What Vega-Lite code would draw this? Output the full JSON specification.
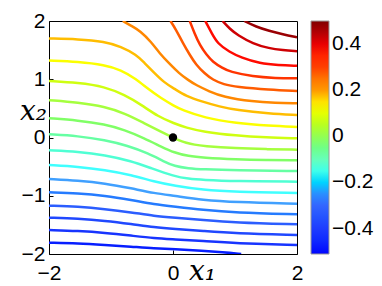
{
  "$schema": "https://vega.github.io/schema/vega-lite/v6.json",
  "width": 248,
  "height": 233,
  "autosize": {"type": "none"},
  "padding": {"left": 49, "top": 21, "right": 85, "bottom": 32},
  "background": "white",
  "config": {
    "view": {"stroke": "black", "strokeWidth": 1},
    "axis": {"labelFont": "Liberation Sans", "labelFontSize": 21, "labelColor": "black", "tickColor": "black", "tickSize": -4, "domain": false, "grid": false, "labelFlush": false, "format": "d", "titleFont": "DejaVu Serif", "titleFontStyle": "italic", "titleFontWeight": "normal", "titleFontSize": 28, "titleColor": "black"}
  },
  "datasets": {
    "contours": [
      {"l": 0.475, "x": 1.15, "y": 2.0}, {"l": 0.475, "x": 1.34, "y": 1.9}, {"l": 0.475, "x": 1.55, "y": 1.83}, {"l": 0.475, "x": 1.77, "y": 1.77}, {"l": 0.475, "x": 2.0, "y": 1.72},
      {"l": 0.425, "x": 0.8, "y": 2.0}, {"l": 0.425, "x": 0.92, "y": 1.86}, {"l": 0.425, "x": 1.04, "y": 1.76}, {"l": 0.425, "x": 1.29, "y": 1.61}, {"l": 0.425, "x": 1.55, "y": 1.53}, {"l": 0.425, "x": 1.77, "y": 1.5}, {"l": 0.425, "x": 2.0, "y": 1.48},
      {"l": 0.375, "x": 0.52, "y": 2.0}, {"l": 0.375, "x": 0.62, "y": 1.8}, {"l": 0.375, "x": 0.72, "y": 1.61}, {"l": 0.375, "x": 0.91, "y": 1.47}, {"l": 0.375, "x": 1.1, "y": 1.37}, {"l": 0.375, "x": 1.4, "y": 1.27}, {"l": 0.375, "x": 1.7, "y": 1.24}, {"l": 0.375, "x": 2.0, "y": 1.23},
      {"l": 0.325, "x": 0.27, "y": 2.0}, {"l": 0.325, "x": 0.35, "y": 1.78}, {"l": 0.325, "x": 0.43, "y": 1.59}, {"l": 0.325, "x": 0.54, "y": 1.42}, {"l": 0.325, "x": 0.64, "y": 1.3}, {"l": 0.325, "x": 0.8, "y": 1.19}, {"l": 0.325, "x": 0.91, "y": 1.13}, {"l": 0.325, "x": 1.29, "y": 1.045}, {"l": 0.325, "x": 1.65, "y": 1.02}, {"l": 0.325, "x": 2.0, "y": 1.016},
      {"l": 0.275, "x": -0.04, "y": 2.0}, {"l": 0.275, "x": 0.05, "y": 1.85}, {"l": 0.275, "x": 0.16, "y": 1.62}, {"l": 0.275, "x": 0.27, "y": 1.42}, {"l": 0.275, "x": 0.37, "y": 1.25}, {"l": 0.275, "x": 0.51, "y": 1.1}, {"l": 0.275, "x": 0.64, "y": 0.99}, {"l": 0.275, "x": 0.82, "y": 0.91}, {"l": 0.275, "x": 1.02, "y": 0.87}, {"l": 0.275, "x": 1.55, "y": 0.82}, {"l": 0.275, "x": 2.0, "y": 0.8},
      {"l": 0.225, "x": -0.81, "y": 2.0}, {"l": 0.225, "x": -0.66, "y": 1.91}, {"l": 0.225, "x": -0.53, "y": 1.83}, {"l": 0.225, "x": -0.35, "y": 1.64}, {"l": 0.225, "x": -0.22, "y": 1.45}, {"l": 0.225, "x": -0.06, "y": 1.27}, {"l": 0.225, "x": 0.1, "y": 1.1}, {"l": 0.225, "x": 0.24, "y": 0.99}, {"l": 0.225, "x": 0.37, "y": 0.9}, {"l": 0.225, "x": 0.59, "y": 0.79}, {"l": 0.225, "x": 0.8, "y": 0.7}, {"l": 0.225, "x": 1.29, "y": 0.615}, {"l": 0.225, "x": 1.65, "y": 0.595}, {"l": 0.225, "x": 2.0, "y": 0.587},
      {"l": 0.175, "x": -2.0, "y": 1.7}, {"l": 0.175, "x": -1.53, "y": 1.69}, {"l": 0.175, "x": -1.1, "y": 1.645}, {"l": 0.175, "x": -0.84, "y": 1.56}, {"l": 0.175, "x": -0.59, "y": 1.42}, {"l": 0.175, "x": -0.46, "y": 1.28}, {"l": 0.175, "x": -0.32, "y": 1.13}, {"l": 0.175, "x": -0.14, "y": 0.94}, {"l": 0.175, "x": 0.02, "y": 0.84}, {"l": 0.175, "x": 0.21, "y": 0.71}, {"l": 0.175, "x": 0.48, "y": 0.615}, {"l": 0.175, "x": 0.75, "y": 0.53}, {"l": 0.175, "x": 1.02, "y": 0.472}, {"l": 0.175, "x": 1.55, "y": 0.41}, {"l": 0.175, "x": 2.0, "y": 0.386},
      {"l": 0.125, "x": -2.0, "y": 1.32}, {"l": 0.125, "x": -1.53, "y": 1.3}, {"l": 0.125, "x": -1.1, "y": 1.245}, {"l": 0.125, "x": -0.84, "y": 1.16}, {"l": 0.125, "x": -0.6, "y": 1.01}, {"l": 0.125, "x": -0.4, "y": 0.83}, {"l": 0.125, "x": -0.2, "y": 0.68}, {"l": 0.125, "x": 0.02, "y": 0.54}, {"l": 0.125, "x": 0.15, "y": 0.47}, {"l": 0.125, "x": 0.5, "y": 0.34}, {"l": 0.125, "x": 1.02, "y": 0.245}, {"l": 0.125, "x": 1.55, "y": 0.2}, {"l": 0.125, "x": 2.0, "y": 0.18},
      {"l": 0.075, "x": -2.0, "y": 0.97}, {"l": 0.075, "x": -1.53, "y": 0.94}, {"l": 0.075, "x": -1.1, "y": 0.873}, {"l": 0.075, "x": -0.78, "y": 0.73}, {"l": 0.075, "x": -0.51, "y": 0.56}, {"l": 0.075, "x": -0.24, "y": 0.36}, {"l": 0.075, "x": 0.02, "y": 0.24}, {"l": 0.075, "x": 0.21, "y": 0.17}, {"l": 0.075, "x": 0.48, "y": 0.1}, {"l": 0.075, "x": 1.02, "y": 0.03}, {"l": 0.075, "x": 1.5, "y": 0.0}, {"l": 0.075, "x": 2.0, "y": -0.014},
      {"l": 0.025, "x": -2.0, "y": 0.64}, {"l": 0.025, "x": -1.53, "y": 0.6}, {"l": 0.025, "x": -1.1, "y": 0.53}, {"l": 0.025, "x": -0.78, "y": 0.415}, {"l": 0.025, "x": -0.46, "y": 0.243}, {"l": 0.025, "x": -0.19, "y": 0.1}, {"l": 0.025, "x": 0.0, "y": 0.0}, {"l": 0.025, "x": 0.1, "y": -0.05}, {"l": 0.025, "x": 0.21, "y": -0.09}, {"l": 0.025, "x": 0.35, "y": -0.125}, {"l": 0.025, "x": 0.48, "y": -0.146}, {"l": 0.025, "x": 1.02, "y": -0.186}, {"l": 0.025, "x": 1.5, "y": -0.2}, {"l": 0.025, "x": 2.0, "y": -0.209},
      {"l": -0.025, "x": -2.0, "y": 0.33}, {"l": -0.025, "x": -1.53, "y": 0.295}, {"l": -0.025, "x": -1.1, "y": 0.226}, {"l": -0.025, "x": -0.78, "y": 0.13}, {"l": -0.025, "x": -0.46, "y": -0.014}, {"l": -0.025, "x": -0.19, "y": -0.157}, {"l": -0.025, "x": 0.02, "y": -0.26}, {"l": -0.025, "x": 0.25, "y": -0.32}, {"l": -0.025, "x": 0.48, "y": -0.346}, {"l": -0.025, "x": 1.02, "y": -0.375}, {"l": -0.025, "x": 1.5, "y": -0.387}, {"l": -0.025, "x": 2.0, "y": -0.392},
      {"l": -0.075, "x": -2.0, "y": 0.055}, {"l": -0.075, "x": -1.53, "y": 0.026}, {"l": -0.075, "x": -1.1, "y": -0.043}, {"l": -0.075, "x": -0.73, "y": -0.14}, {"l": -0.075, "x": -0.4, "y": -0.272}, {"l": -0.075, "x": -0.14, "y": -0.415}, {"l": -0.075, "x": 0.02, "y": -0.49}, {"l": -0.075, "x": 0.25, "y": -0.53}, {"l": -0.075, "x": 0.48, "y": -0.546}, {"l": -0.075, "x": 1.0, "y": -0.565}, {"l": -0.075, "x": 2.0, "y": -0.575},
      {"l": -0.125, "x": -2.0, "y": -0.22}, {"l": -0.125, "x": -1.53, "y": -0.243}, {"l": -0.125, "x": -1.1, "y": -0.3}, {"l": -0.125, "x": -0.67, "y": -0.403}, {"l": -0.125, "x": -0.35, "y": -0.529}, {"l": -0.125, "x": 0.02, "y": -0.665}, {"l": -0.125, "x": 0.25, "y": -0.71}, {"l": -0.125, "x": 0.48, "y": -0.729}, {"l": -0.125, "x": 1.0, "y": -0.75}, {"l": -0.125, "x": 2.0, "y": -0.758},
      {"l": -0.175, "x": -2.0, "y": -0.472}, {"l": -0.175, "x": -1.53, "y": -0.5}, {"l": -0.175, "x": -1.1, "y": -0.558}, {"l": -0.175, "x": -0.67, "y": -0.644}, {"l": -0.175, "x": -0.3, "y": -0.758}, {"l": -0.175, "x": 0.02, "y": -0.827}, {"l": -0.175, "x": 0.48, "y": -0.9}, {"l": -0.175, "x": 1.0, "y": -0.935}, {"l": -0.175, "x": 2.0, "y": -0.953},
      {"l": -0.225, "x": -2.0, "y": -0.712}, {"l": -0.225, "x": -1.53, "y": -0.741}, {"l": -0.225, "x": -1.1, "y": -0.787}, {"l": -0.225, "x": -0.67, "y": -0.873}, {"l": -0.225, "x": -0.3, "y": -0.958}, {"l": -0.225, "x": 0.02, "y": -1.0}, {"l": -0.225, "x": 0.48, "y": -1.073}, {"l": -0.225, "x": 1.0, "y": -1.11}, {"l": -0.225, "x": 2.0, "y": -1.136},
      {"l": -0.275, "x": -2.0, "y": -0.941}, {"l": -0.275, "x": -1.53, "y": -0.958}, {"l": -0.275, "x": -1.1, "y": -0.998}, {"l": -0.275, "x": -0.67, "y": -1.073}, {"l": -0.275, "x": -0.3, "y": -1.147}, {"l": -0.275, "x": 0.02, "y": -1.187}, {"l": -0.275, "x": 0.48, "y": -1.244}, {"l": -0.275, "x": 1.0, "y": -1.29}, {"l": -0.275, "x": 2.0, "y": -1.319},
      {"l": -0.325, "x": -2.0, "y": -1.17}, {"l": -0.325, "x": -1.53, "y": -1.187}, {"l": -0.325, "x": -1.1, "y": -1.227}, {"l": -0.325, "x": -0.67, "y": -1.285}, {"l": -0.325, "x": -0.3, "y": -1.347}, {"l": -0.325, "x": 0.02, "y": -1.376}, {"l": -0.325, "x": 0.48, "y": -1.416}, {"l": -0.325, "x": 1.0, "y": -1.46}, {"l": -0.325, "x": 2.0, "y": -1.491},
      {"l": -0.375, "x": -2.0, "y": -1.376}, {"l": -0.375, "x": -1.53, "y": -1.393}, {"l": -0.375, "x": -1.1, "y": -1.428}, {"l": -0.375, "x": -0.67, "y": -1.485}, {"l": -0.375, "x": -0.3, "y": -1.542}, {"l": -0.375, "x": 0.02, "y": -1.571}, {"l": -0.375, "x": 0.48, "y": -1.605}, {"l": -0.375, "x": 1.0, "y": -1.645}, {"l": -0.375, "x": 2.0, "y": -1.674},
      {"l": -0.425, "x": -2.0, "y": -1.588}, {"l": -0.425, "x": -1.53, "y": -1.605}, {"l": -0.425, "x": -1.1, "y": -1.634}, {"l": -0.425, "x": -0.67, "y": -1.685}, {"l": -0.425, "x": -0.3, "y": -1.731}, {"l": -0.425, "x": 0.02, "y": -1.748}, {"l": -0.425, "x": 0.48, "y": -1.777}, {"l": -0.425, "x": 1.0, "y": -1.815}, {"l": -0.425, "x": 2.0, "y": -1.845},
      {"l": -0.475, "x": -2.0, "y": -1.805}, {"l": -0.475, "x": -1.53, "y": -1.817}, {"l": -0.475, "x": -1.1, "y": -1.845}, {"l": -0.475, "x": -0.67, "y": -1.874}, {"l": -0.475, "x": -0.3, "y": -1.903}, {"l": -0.475, "x": 0.02, "y": -1.914}, {"l": -0.475, "x": 0.48, "y": -1.948}, {"l": -0.475, "x": 0.8, "y": -1.97}, {"l": -0.475, "x": 1.1, "y": -2.0}
    ],
    "point": [{"x": 0, "y": 0}]
  },
  "layer": [
    {
      "data": {"name": "contours"},
      "mark": {"type": "line", "strokeWidth": 2.5, "interpolate": "basis", "clip": true},
      "encoding": {
        "x": {"field": "x", "type": "quantitative", "scale": {"domain": [-2, 2], "nice": false, "zero": false},
              "axis": {"values": [-2, 0, 2], "title": "x₁", "titleX": 153, "titleY": 25, "titleAlign": "center", "titleBaseline": "alphabetic", "labelPadding": 12}},
        "y": {"field": "y", "type": "quantitative", "scale": {"domain": [-2, 2], "nice": false, "zero": false},
              "axis": {"values": [-2, -1, 0, 1, 2], "title": "x₂", "titleAngle": 0, "titleX": -16, "titleY": 98, "titleAlign": "center", "titleBaseline": "alphabetic", "labelPadding": 8}},
        "detail": {"field": "l", "type": "nominal"},
        "color": {"field": "l", "type": "quantitative",
                  "scale": {"domain": [-0.51, -0.4, -0.3, -0.225, -0.175, -0.1, -0.025, 0.05, 0.13, 0.2, 0.3, 0.38, 0.5],
                            "range": ["#0000ff", "#1e3cff", "#3366ff", "#40a0ff", "#40ffff", "#66ffbb", "#80ff66", "#b8ff20", "#ffff00", "#ff9900", "#ff4000", "#ff0000", "#800000"]},
                  "legend": {"title": null, "values": [-0.4, -0.2, 0, 0.2, 0.4], "format": "~g", "orient": "right", "direction": "vertical", "gradientLength": 233, "gradientThickness": 18, "offset": 14, "padding": 0, "labelFontSize": 21, "labelFont": "Liberation Sans", "labelColor": "black", "labelOffset": 3, "gradientStrokeColor": "#999", "gradientStrokeWidth": 1}}
      }
    },
    {
      "mark": {"type": "rule", "color": "#999", "strokeWidth": 2},
      "encoding": {"x": {"datum": 2}}
    },
    {
      "data": {"name": "point"},
      "mark": {"type": "circle", "color": "black", "size": 70, "opacity": 1},
      "encoding": {"x": {"field": "x", "type": "quantitative"}, "y": {"field": "y", "type": "quantitative"}}
    }
  ]
}
